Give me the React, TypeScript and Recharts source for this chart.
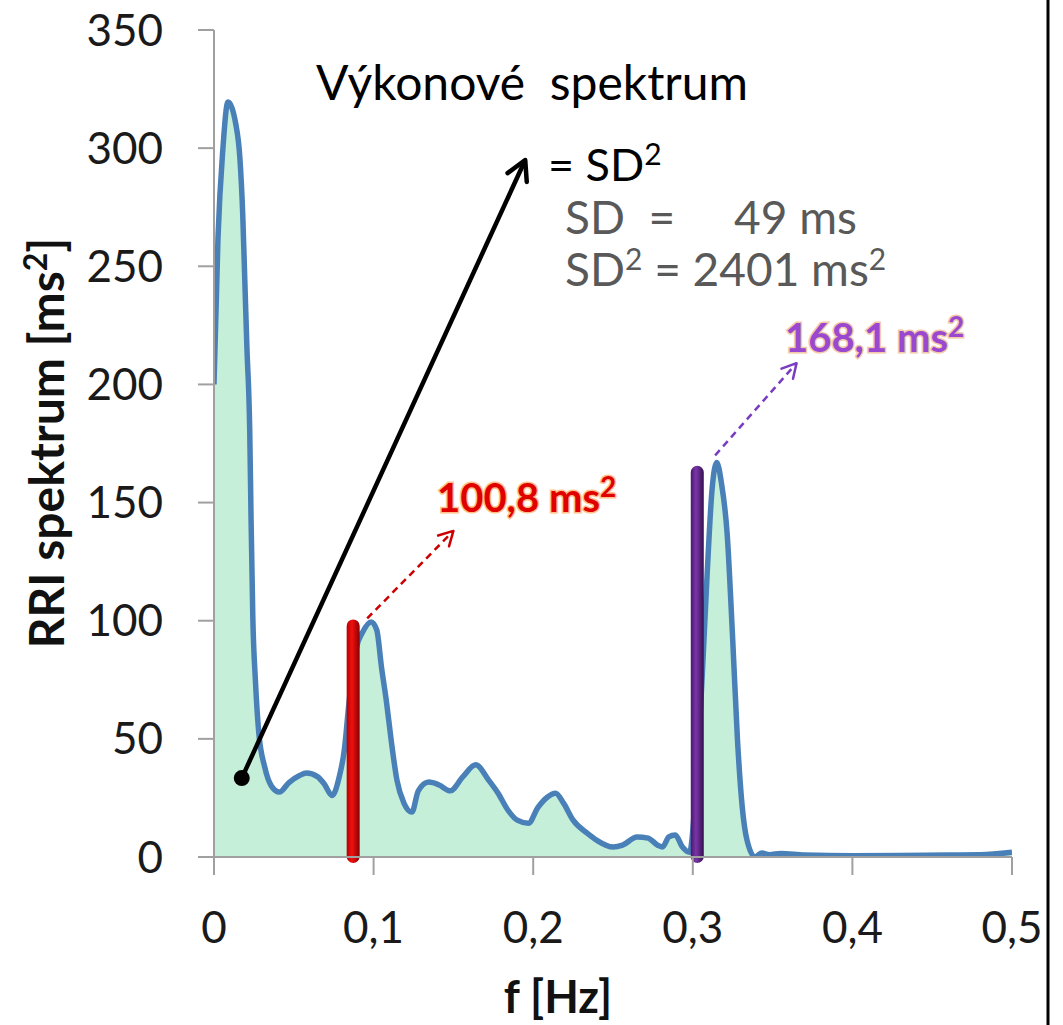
import React from 'react';
import {
  ComposedChart,
  Area,
  XAxis,
  YAxis,
  ReferenceLine,
  ReferenceDot,
} from 'recharts';

// RRI power spectrum
const freq = [
  0, 0.0025, 0.0056, 0.0087, 0.0137, 0.0162, 0.018, 0.0193, 0.0206, 0.0224, 0.0232, 0.0243, 0.026, 0.028,
  0.0318, 0.036, 0.041, 0.047, 0.0536, 0.058, 0.0648, 0.069, 0.074, 0.0785, 0.0816, 0.0847, 0.089, 0.093,
  0.0985, 0.102, 0.105, 0.108, 0.111, 0.1146, 0.119, 0.124, 0.128, 0.1346, 0.141, 0.148, 0.156, 0.164,
  0.172, 0.178, 0.184, 0.19, 0.197, 0.203, 0.209, 0.214, 0.219, 0.225, 0.234, 0.24, 0.25, 0.256, 0.265,
  0.272, 0.278, 0.281, 0.285, 0.289, 0.2935, 0.298, 0.302, 0.306, 0.309, 0.312, 0.315, 0.318, 0.3215,
  0.325, 0.328, 0.331, 0.334, 0.339, 0.343, 0.348, 0.355, 0.37, 0.4, 0.43, 0.46, 0.48, 0.5,
];
const power = [
  200, 262, 300, 319.5, 310, 296, 272, 244, 216, 180, 144, 102, 74, 53,
  38, 30, 27.5, 31.5, 34.5, 35.5, 34, 31, 26, 34, 45, 66, 88, 95,
  99.5, 96, 80, 66, 49.5, 32.6, 22.8, 19, 28, 31.7, 30.5, 28, 34, 39,
  32.6, 27, 20, 15.6, 14.3, 21, 25.4, 27, 22.8, 15.6, 10, 7, 4.2, 5, 8.5,
  8, 5, 4.2, 8.5, 9.3, 4.2, 2, 30, 78, 120, 155, 167, 158, 137,
  92, 49.5, 21, 7, 0, 1.7, 1, 1.5, 0.8, 0.5, 0.6, 0.8, 0.9, 2,
];

const xTicks = [0, 0.1, 0.2, 0.3, 0.4, 0.5];
const yTicks = [0, 50, 100, 150, 200, 250, 300, 350];

// LF / HF band markers (frequency, height)
const lfMarker = [0.0872, 98];
const hfMarker = [0.3028, 163];

// arrows: [fromF, fromP, toF, toP]
const sdArrow = [0.0174, 33.4, 0.195, 295];
const lfArrow = [0.096, 101, 0.15, 138];
const hfArrow = [0.314, 170, 0.365, 209];

const data = freq.map((f, i) => ({ f, p: power[i] }));

const FONT = 'Lato, "Open Sans", sans-serif';

const fmtX = (v: number) => String(v).replace('.', ',');

const barShape = (grad: string) => (props: any) => {
  const { x1, y1, y2 } = props;
  const top = Math.min(y1, y2);
  const bottom = Math.max(y1, y2);
  return (
    <rect x={x1 - 6.5} y={top - 6} width={13} height={bottom - top + 12} rx={6.5} fill={`url(#${grad})`} />
  );
};

const arrowShape = (color: string, width: number, dash?: string) => (props: any) => {
  const { x1, y1, x2, y2 } = props;
  const a = Math.atan2(y2 - y1, x2 - x1);
  const L = width > 3 ? 22 : 16;
  const s = 0.5;
  const h1 = [x2 - L * Math.cos(a - s), y2 - L * Math.sin(a - s)];
  const h2 = [x2 - L * Math.cos(a + s), y2 - L * Math.sin(a + s)];
  return (
    <g>
      <line x1={x1} y1={y1} x2={x2} y2={y2} stroke={color} strokeWidth={width} strokeDasharray={dash} />
      <polyline
        points={`${h1[0]},${h1[1]} ${x2},${y2} ${h2[0]},${h2[1]}`}
        fill="none"
        stroke={color}
        strokeWidth={width}
        strokeLinecap="round"
        strokeLinejoin="round"
      />
    </g>
  );
};

export default function App() {
  return (
    <div style={{ position: 'absolute', left: 0, top: 0, width: 1063, height: 1025, background: '#fff' }}>
      <svg width={0} height={0} style={{ position: 'absolute' }}>
        <defs>
          <linearGradient id="redBar" x1="0" y1="0" x2="1" y2="0">
            <stop offset="0%" stopColor="#b80000" />
            <stop offset="40%" stopColor="#f01010" />
            <stop offset="100%" stopColor="#8a0000" />
          </linearGradient>
          <linearGradient id="purpleBar" x1="0" y1="0" x2="1" y2="0">
            <stop offset="0%" stopColor="#4a1670" />
            <stop offset="40%" stopColor="#7a36a8" />
            <stop offset="100%" stopColor="#34104f" />
          </linearGradient>
        </defs>
      </svg>
      <ComposedChart
        width={1063}
        height={1025}
        data={data}
        margin={{ top: 30, right: 51, bottom: 108, left: 94 }}
      >
        <XAxis
          type="number"
          dataKey="f"
          domain={[0, 0.5]}
          ticks={xTicks}
          tickFormatter={fmtX}
          height={60}
          tickSize={18}
          tickMargin={37}
          stroke="#a0a0a0"
          strokeWidth={2}
          tick={{ fill: '#1a1a1a', fontSize: 44, fontFamily: FONT }}
          allowDataOverflow
        />
        <YAxis
          type="number"
          domain={[0, 350]}
          ticks={yTicks}
          width={120}
          tickSize={16}
          tickMargin={35}
          stroke="#a0a0a0"
          strokeWidth={2}
          tick={{ fill: '#1a1a1a', fontSize: 44, fontFamily: FONT }}
          allowDataOverflow
        />
        <Area
          type="monotone"
          dataKey="p"
          stroke="#4a80b8"
          strokeWidth={5.5}
          fill="#c6efda"
          fillOpacity={1}
          dot={false}
          activeDot={false}
          isAnimationActive={false}
        />
        <ReferenceLine
          segment={[{ x: lfMarker[0], y: 0 }, { x: lfMarker[0], y: lfMarker[1] }]}
          shape={barShape('redBar')}
          ifOverflow="visible"
        />
        <ReferenceLine
          segment={[{ x: hfMarker[0], y: 0 }, { x: hfMarker[0], y: hfMarker[1] }]}
          shape={barShape('purpleBar')}
          ifOverflow="visible"
        />
        <ReferenceLine
          segment={[{ x: sdArrow[0], y: sdArrow[1] }, { x: sdArrow[2], y: sdArrow[3] }]}
          shape={arrowShape('#000', 4.5)}
          ifOverflow="visible"
        />
        <ReferenceDot x={sdArrow[0]} y={sdArrow[1]} r={8} fill="#000" stroke="none" ifOverflow="visible" />
        <ReferenceLine
          segment={[{ x: lfArrow[0], y: lfArrow[1] }, { x: lfArrow[2], y: lfArrow[3] }]}
          shape={arrowShape('#cc0000', 2.5, '7 5')}
          ifOverflow="visible"
        />
        <ReferenceLine
          segment={[{ x: hfArrow[0], y: hfArrow[1] }, { x: hfArrow[2], y: hfArrow[3] }]}
          shape={arrowShape('#7a3cc0', 2.5, '7 5')}
          ifOverflow="visible"
        />
      </ComposedChart>
      <svg
        width={1063}
        height={1025}
        style={{ position: 'absolute', left: 0, top: 0, pointerEvents: 'none' }}
        fontFamily={FONT}
      >
        <text x={316} y={100} fontSize={48} fill="#000">
          Výkonové{'\u00a0\u00a0'}spektrum
        </text>
        <text x={548} y={181} fontSize={45} fill="#000">
          = SD<tspan dy={-16} fontSize={30}>2</tspan>
        </text>
        <text x={565} y={234} fontSize={46} fill="#595959">
          SD{'\u00a0\u00a0'}={'\u00a0\u00a0\u00a0\u00a0\u00a0'}49 ms
        </text>
        <text x={565} y={286} fontSize={46} fill="#595959">
          SD<tspan dy={-16} fontSize={30}>2</tspan>
          <tspan dy={16}> = 2401 ms</tspan>
          <tspan dy={-16} fontSize={30}>2</tspan>
        </text>
        <text
          x={437}
          y={512}
          fontSize={40}
          fontWeight="bold"
          fill="#e00000"
          stroke="#ffc08a"
          strokeWidth={3}
          paintOrder="stroke"
        >
          100,8 ms<tspan dy={-15} fontSize={28}>2</tspan>
        </text>
        <text
          x={785}
          y={352}
          fontSize={40}
          fontWeight="bold"
          fill="#9a48d0"
          stroke="#f3c9a8"
          strokeWidth={3}
          paintOrder="stroke"
        >
          168,1 ms<tspan dy={-15} fontSize={28}>2</tspan>
        </text>
        <text
          transform="translate(64,443) rotate(-90)"
          textAnchor="middle"
          fontSize={48}
          fontWeight="bold"
          fill="#111"
        >
          RRI spektrum [ms<tspan dy={-17} fontSize={32}>2</tspan>
          <tspan dy={17}>]</tspan>
        </text>
        <text x={558} y={1013} textAnchor="middle" fontSize={45} fontWeight="bold" fill="#111">
          f [Hz]
        </text>
        <line x1={1048} y1={0} x2={1048} y2={1025} stroke="#000" strokeWidth={3} />
      </svg>
    </div>
  );
}
